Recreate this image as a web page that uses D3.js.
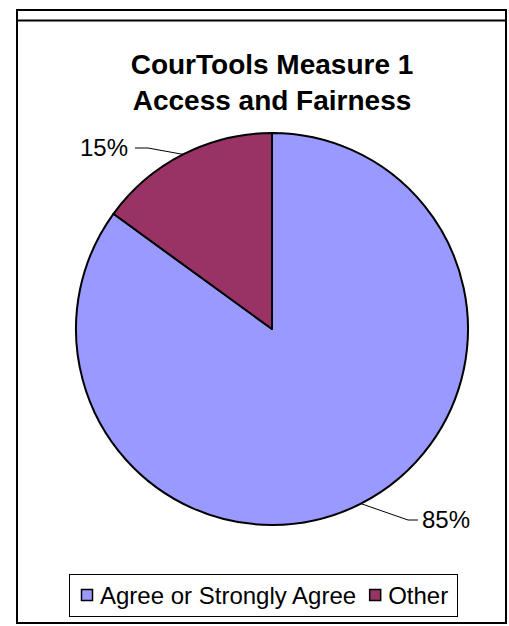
<!DOCTYPE html>
<html>
<head>
<meta charset="utf-8">
<script src="https://cdn.jsdelivr.net/npm/d3@7"></script>
<style>
  body { margin: 0; background: #fff; }
  svg text { font-family: "Liberation Sans", Arial, sans-serif; }
</style>
</head>
<body>
<div id="chart"></div>
<script>
;(function () {

    // chart data
    var categories = ['Agree or Strongly Agree', 'Other'];
    var values     = [85, 15];
    var colors     = ['#9999ff', '#993366'];
    var titleLines = ['CourTools Measure 1', 'Access and Fairness'];

    var width = 509, height = 626;
    var cx = 272, cy = 329, r = 196;

    var svg = d3.select('#chart').append('svg')
        .attr('width', width)
        .attr('height', height);

    // outer frame
    svg.append('rect')
        .attr('x', 17).attr('y', 10)
        .attr('width', 489).attr('height', 613)
        .attr('fill', '#fff')
        .attr('stroke', '#000')
        .attr('stroke-width', 2);
    svg.append('line')
        .attr('x1', 17).attr('x2', 506)
        .attr('y1', 20.5).attr('y2', 20.5)
        .attr('stroke', '#000')
        .attr('stroke-width', 2);

    // title
    svg.append('g').selectAll('text')
        .data(titleLines)
        .enter().append('text')
        .attr('x', cx)
        .attr('y', function (d, i) { return 74 + i * 36; })
        .attr('text-anchor', 'middle')
        .attr('font-size', '28px')
        .attr('font-weight', 'bold')
        .text(function (d) { return d; });

    // pie, starting at 12 o'clock going clockwise
    var pie = d3.pie().sort(null).value(function (d) { return d; });
    var arc = d3.arc().innerRadius(0).outerRadius(r);
    var arcs = pie(values);

    var g = svg.append('g').attr('transform', 'translate(' + cx + ',' + cy + ')');
    g.selectAll('path')
        .data(arcs)
        .enter().append('path')
        .attr('d', arc)
        .attr('fill', function (d, i) { return colors[i]; })
        .attr('stroke', '#000')
        .attr('stroke-width', 2)
        .attr('stroke-linejoin', 'round');

    // data labels with leader lines
    var total = d3.sum(values);
    var labelPos = [
        { tx: 470, ty: 528, anchor: 'end',   lx: 418, ly: 520, bx: 408 },
        { tx: 80,  ty: 156, anchor: 'start', lx: 135, ly: 148, bx: 148 }
    ];

    arcs.forEach(function (a, i) {
        var p = labelPos[i];
        var ang = (a.startAngle + a.endAngle) / 2;
        var ex = cx + Math.sin(ang) * r, ey = cy - Math.cos(ang) * r;
        svg.append('polyline')
            .attr('points', [[ex, ey], [p.bx, p.ly], [p.lx, p.ly]].map(function (q) { return q.join(','); }).join(' '))
            .attr('fill', 'none')
            .attr('stroke', '#000')
            .attr('stroke-width', 1);
        svg.append('text')
            .attr('x', p.tx).attr('y', p.ty)
            .attr('text-anchor', p.anchor)
            .attr('font-size', '24px')
            .text(Math.round(values[i] / total * 100) + '%');
    });

    // legend
    var legend = svg.append('g');
    legend.append('rect')
        .attr('x', 69.5).attr('y', 574.5)
        .attr('width', 388).attr('height', 42)
        .attr('fill', '#fff')
        .attr('stroke', '#000')
        .attr('stroke-width', 1);
    var lx = 81;
    categories.forEach(function (c, i) {
        legend.append('rect')
            .attr('x', lx + 0.5).attr('y', 589.5)
            .attr('width', 11).attr('height', 11)
            .attr('fill', colors[i])
            .attr('stroke', '#000')
            .attr('stroke-width', 1.5);
        var t = legend.append('text')
            .attr('x', lx + 19).attr('y', 604)
            .attr('font-size', '24px')
            .text(c);
        lx += 19 + t.node().getComputedTextLength() + 13;
    });

})();
</script>
</body>
</html>
